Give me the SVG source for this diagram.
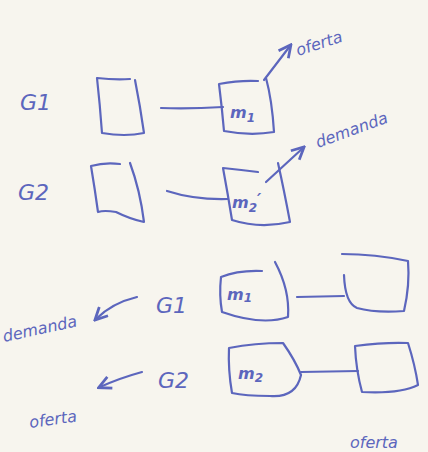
<svg xmlns="http://www.w3.org/2000/svg" width="428" height="452" viewBox="0 0 428 452">
<defs>
<style>
.ink{fill:none;stroke:#5c66bd;stroke-width:2.2;stroke-linecap:round;stroke-linejoin:round}
.t{fill:#5c66bd;font-family:"DejaVu Sans",sans-serif;font-style:italic}
.lbl{font-size:22px}
.sm{font-size:16px;font-weight:bold}
.w{font-size:16px}
</style>
<marker id="ah" viewBox="0 0 10 10" refX="8" refY="5" markerWidth="7" markerHeight="7" orient="auto-start-reverse">
<path d="M1,1 L9,5 L1,9" fill="none" stroke="#5c66bd" stroke-width="1.8"/>
</marker>
</defs>
<rect width="428" height="452" fill="#f7f5ee"/>

<g id="connectors">
<path class="ink" d="M161,108 Q190,109 223,107"/>
<path class="ink" marker-end="url(#ah)" d="M264,80 L290,46"/>
<path class="ink" d="M167,191 Q195,200 228,199"/>
<path class="ink" marker-end="url(#ah)" d="M266,182 L303,148"/>
<path class="ink" d="M297,297 L344,296"/>
<path class="ink" marker-end="url(#ah)" d="M137,297 Q112,303 96,319"/>
<path class="ink" d="M301,372 L358,371"/>
<path class="ink" marker-end="url(#ah)" d="M142,372 Q120,378 100,387"/>
</g>

<g id="g1-label"><text class="t lbl" x="20" y="110">G1</text></g>
<g id="g1-box"><path class="ink" d="M97,78 Q115,80 130,79 M135,80 Q140,105 144,133 Q125,137 102,133 Q100,105 97,78"/></g>
<g id="m1-box"><path class="ink" d="M219,84 Q240,80 258,81 M266,78 Q272,100 274,132 Q250,136 224,131 Q222,108 219,84"/><text class="t sm" x="230" y="118">m<tspan font-size="12" dy="4">1</tspan></text></g>
<g id="oferta-1"><text class="t w" transform="translate(298,56) rotate(-18)">oferta</text></g>
<g id="demanda-1"><text class="t w" transform="translate(318,148) rotate(-20)">demanda</text></g>

<g id="g2-label"><text class="t lbl" x="18" y="200">G2</text></g>
<g id="g2-box"><path class="ink" d="M91,166 Q105,162 120,164 M130,163 Q140,190 144,222 Q130,219 116,212 Q104,210 98,212 Q95,190 91,166"/></g>
<g id="m2p-box"><path class="ink" d="M223,168 Q242,170 258,172 M278,163 Q284,190 290,222 Q260,229 232,220 Q228,195 223,168"/><text class="t sm" x="232" y="208">m<tspan font-size="12" dy="4">2</tspan><tspan dy="-7">′</tspan></text></g>

<g id="demanda-2"><text class="t w" transform="translate(4,342) rotate(-12)">demanda</text></g>
<g id="g1b-label"><text class="t lbl" x="156" y="313">G1</text></g>
<g id="m1b-box"><path class="ink" d="M221,277 Q238,270 262,271 M275,262 Q290,290 288,317 Q262,326 222,312 Q219,295 221,277"/><text class="t sm" x="227" y="300">m<tspan font-size="12" dy="2">1</tspan></text></g>
<g id="r1-box"><path class="ink" d="M342,254 Q375,254 408,261 Q410,285 404,311 Q375,313 357,308 Q345,303 344,275"/></g>

<g id="oferta-2"><text class="t w" transform="translate(30,428) rotate(-8)">oferta</text></g>
<g id="g2b-label"><text class="t lbl" x="158" y="388">G2</text></g>
<g id="m2b-box"><path class="ink" d="M229,348 Q255,343 283,343 Q295,360 301,375 Q296,398 270,396 Q245,396 232,393 Q228,370 229,348"/><text class="t sm" x="238" y="379">m<tspan font-size="12" dy="3">2</tspan></text></g>
<g id="r2-box"><path class="ink" d="M355,346 Q385,342 408,343 Q415,365 418,385 Q400,394 362,392 Q356,370 355,346"/></g>
<g id="oferta-3"><text class="t w" x="350" y="448">oferta</text></g>
</svg>
